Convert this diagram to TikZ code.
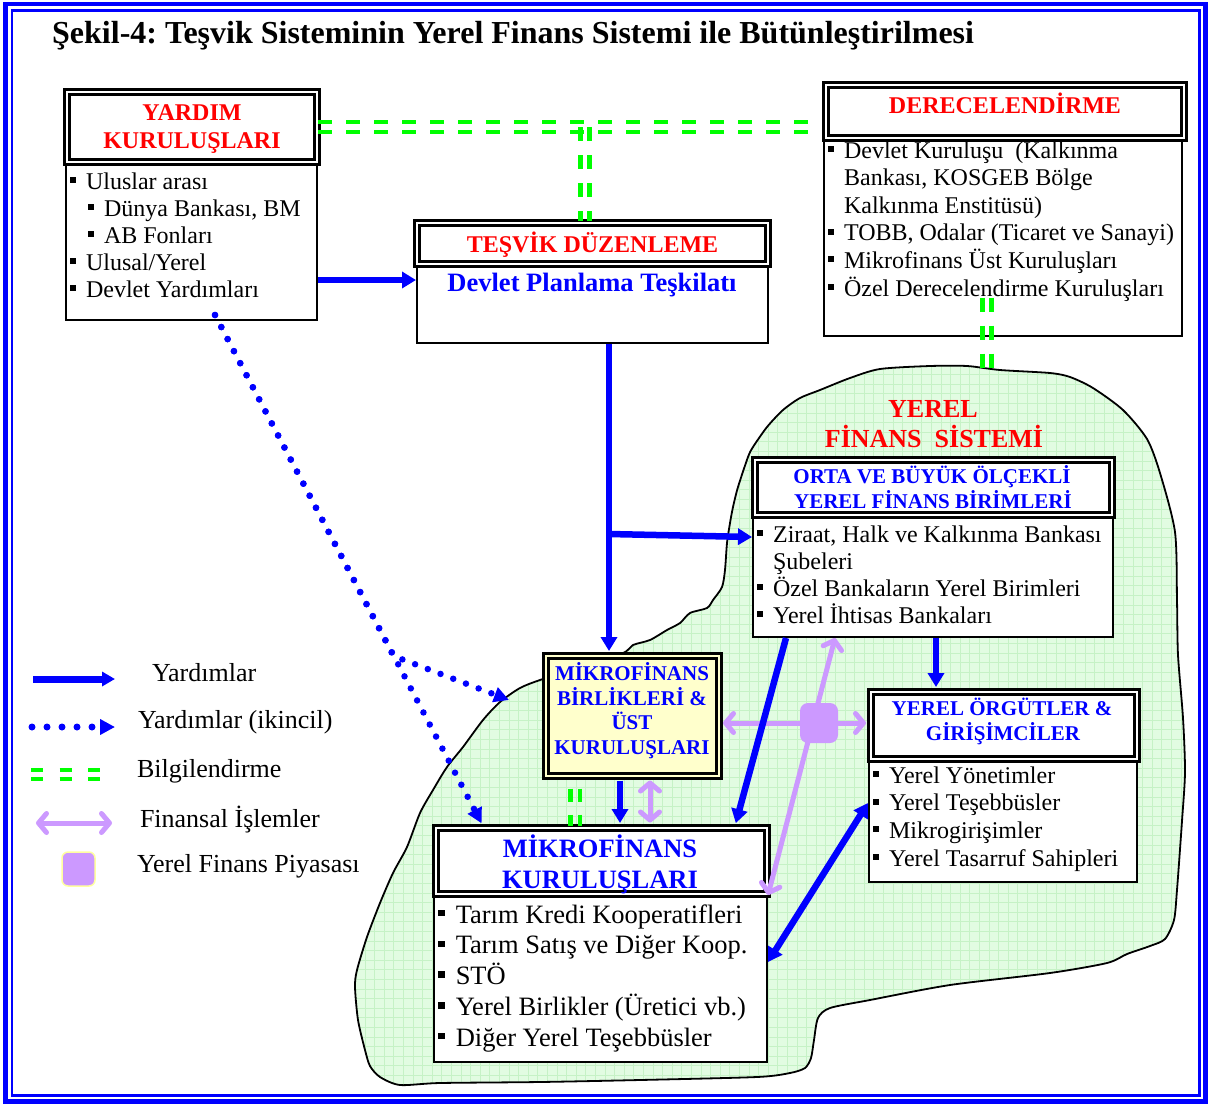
\documentclass[tikz,border=0pt]{standalone}
\usepackage{fontspec}
\setmainfont{Liberation Serif}
\usetikzlibrary{arrows.meta,calc,fit}
\frenchspacing

\definecolor{fsblue}{RGB}{0,0,255}
\definecolor{fsred}{RGB}{255,0,0}
\definecolor{fsgreen}{RGB}{0,255,0}
\definecolor{lav}{RGB}{204,153,255}
\definecolor{blobfill}{RGB}{226,252,226}
\definecolor{blobgrid}{RGB}{198,242,198}
\definecolor{paleyellow}{RGB}{255,255,204}
\definecolor{sqedge}{RGB}{255,255,160}

% list helpers
\newcommand\bul{\rule[0.25em]{0.25em}{0.25em}\hspace{0.42em}}
\newcommand\ind{\hspace*{0.67em}}
\newcommand\fst{\rule{0pt}{1em}}
\newcommand\fsz[2]{\fontsize{#1}{#2}\selectfont}
% green double dashed line: two strokes shifted apart
\newcommand\infopair[4][]{%
  \draw[info,#1,transform canvas={#2=#3}] #4;
  \draw[info,#1,transform canvas={#2=-#3}] #4;}

\tikzset{
  hdr/.style={draw=black, line width=3pt, double=white, double distance=2pt, fill=white, inner sep=0pt},
  bodybox/.style={draw=black, line width=2pt, fill=white, inner sep=0pt},
  txt/.style={inner sep=0pt, outer sep=0pt, align=left, anchor=north west},
  htxt/.style={inner sep=0pt, outer sep=0pt, anchor=base, font=\bfseries\fsz{#1}{#1}},
  ltxt/.style={inner sep=0pt, outer sep=0pt, anchor=base west, font=\fsz{26}{26}},
  aid/.style={draw=fsblue, line width=6.5pt, -{Triangle[length=14pt,width=16pt]}},
  aidboth/.style={draw=fsblue, line width=6.5pt, {Triangle[length=14pt,width=16pt]}-{Triangle[length=14pt,width=16pt]}},
  sec/.style={draw=fsblue, line width=6.5pt, line cap=round, dash pattern=on 0pt off 13.6pt, -{Triangle[length=15pt,width=15pt]}},
  info/.style={draw=fsgreen, line width=4.5pt, dash pattern=on 14pt off 14pt},
  fin/.style={draw=lav, line width=5pt, line cap=round, -{Straight Barb[length=8pt,width=19pt,round]}},
  finboth/.style={draw=lav, line width=5pt, line cap=round, {Straight Barb[length=8pt,width=19pt,round]}-{Straight Barb[length=8pt,width=19pt,round]}},
  market/.style={fill=lav, rounded corners=8pt, minimum width=38pt, minimum height=40pt, inner sep=0pt}
}

\def\blobpath{plot[smooth cycle, tension=0.45] coordinates {
 (748,457) (753,447) (767,427) (783,410) (800,398) (820,390) (850,378) (880,369)
 (930,366) (967,366) (1000,370) (1050,373) (1070,377) (1093,388) (1123,410)
 (1147,439) (1160,473) (1175,532) (1177,600) (1178,655) (1183,718) (1185,772)
 (1182,821) (1177,890) (1174,920) (1165,939) (1150,946) (1127,954) (1107,963)
 (1050,973) (950,985) (870,1000) (830,1008) (818,1018) (814,1040) (811,1058)
 (805,1068) (790,1073) (757,1077) (640,1080) (540,1082) (440,1083) (400,1085)
 (380,1077) (370,1066) (365,1050) (358,1020) (355,987) (357,970) (367,937)
 (380,903) (393,873) (407,847) (420,813) (433,790) (447,767) (463,747)
 (483,720) (500,702) (520,688) (540,680) (580,667) (623,653) (633,645)
 (650,640) (667,630) (680,623) (690,613) (707,608) (713,600) (722,587)
 (725,570) (727,543) (730,523) (733,507) (738,487)}}

\begin{document}
\begin{tikzpicture}[x=1pt,y=-1pt]
\useasboundingbox (0,0) rectangle (1211,1104);
\fill[white] (0,0) rectangle (1211,1104);

% double blue frame
\draw[fsblue, line width=4.5pt] (5.3,4.2) rectangle (1205.5,1101.5);
\draw[fsblue, line width=2.5pt] (12,10.7) rectangle (1199.5,1095.5);

% title
\node[inner sep=0pt, anchor=base west, font=\bfseries\fsz{32}{32}] (title) at (52,43)
  {Şekil-4: Teşvik Sisteminin Yerel Finans Sistemi ile Bütünleştirilmesi};

% local finance system region
\begin{scope}
  \clip \blobpath;
  \fill[blobfill] (340,350) rectangle (1200,1100);
  \draw[blobgrid, line width=0.6pt, step=9.6pt] (340,1100) grid (1200,350);
\end{scope}
\draw[black, line width=1.8pt] \blobpath;

% boxes
\node[bodybox, fit={(66,163)(317,320)}] (yardimB) {};
\node[hdr, fit={(66.7,92.3)(316.7,162)}] (yardimH) {};
\node[bodybox, fit={(417,263)(768,343)}] (tesvikB) {};
\node[hdr, fit={(417,222.5)(768,264)}] (tesvikH) {};
\node[bodybox, fit={(824.3,134)(1181.7,335.7)}] (derB) {};
\node[hdr, fit={(825.5,84.5)(1184,137.5)}] (derH) {};

% information links at the top
\coordinate (infoJ) at (585,127);
\coordinate (blobTop) at (987,369);
\infopair[shorten >=14pt]{yshift}{5pt}{(yardimH.east |- infoJ) -- (derH.west |- infoJ)}
\infopair{xshift}{4.5pt}{(infoJ) -- (tesvikH.north -| infoJ)}
\infopair{xshift}{4.5pt}{($(derB.south -| blobTop)+(0,-39)$) -- (blobTop)}

\node[bodybox, fit={(753,517)(1113,637)}] (ortaB) {};
\node[hdr, fit={(755.2,459.5)(1111.5,514.5)}] (ortaH) {};
\node[hdr, double=paleyellow, fill=paleyellow, fit={(545.5,655.5)(718.5,775.5)}] (birlik) {};
\node[bodybox, fit={(434,895)(767,1062)}] (kurB) {};
\node[hdr, fit={(435.5,827.5)(766.5,893.5)}] (kurH) {};
\node[bodybox, fit={(869,760)(1137,882)}] (orgB) {};
\node[hdr, fit={(870.5,691.5)(1136.5,758.5)}] (orgH) {};

% information link between the microfinance boxes
\coordinate (infoM) at (575.25,800);
\infopair[dash pattern=on 13pt off 13pt, dash phase=14.5pt]{xshift}{4.75pt}{(birlik.south -| infoM) -- (kurH.north -| infoM)}

% financial transactions around the local finance market
\coordinate (pazarC) at (819,723);
\draw[fin, shorten >=3pt] (pazarC) -- (birlik.east |- pazarC);
\draw[fin, shorten >=3pt] (pazarC) -- (orgH.west |- pazarC);
\draw[finboth] (kurH.south east) -- (ortaB.south -| 835,0);
\draw[finboth, shorten <=3.5pt, shorten >=3.5pt] (birlik.south -| 650,0) -- (kurH.north -| 650,0);
\node[market] (pazar) at (pazarC) {};

% aid flows
\coordinate (split) at (609,534);
\draw[aid] (yardimB.east |- 0,280) -- (tesvikB.west |- 0,280);
\draw[aid, shorten >=3pt] (tesvikB.south -| split) -- (birlik.north -| split);
\draw[aid] (split) -- (ortaB.west |- 0,537);
\draw[aid, shorten <=3.5pt, shorten >=3pt] (birlik.south -| 620,0) -- (kurH.north -| 620,0);
\draw[aid, shorten >=3pt] (ortaB.south -| 786,0) -- (kurH.north -| 735,0);
\draw[aid, shorten >=3pt] (ortaB.south -| 936,0) -- (orgH.north -| 936,0);
\draw[aidboth] (kurB.east |- 0,962) -- (orgB.west |- 0,803);

% secondary aid flows
\coordinate (secStart) at ($(yardimB.south -| 215,0)+(0,-6)$);
\coordinate (secBend) at (393.5,656);
\coordinate (blobW) at (509,700);
\draw[sec, shorten >=3pt] (secStart) -- (kurH.north -| 483,0);
\draw[sec] (secStart) -- (secBend) -- (blobW);

% header texts
\node[htxt=24, text=fsred] (yardimT1) at (192,120) {YARDIM};
\node[htxt=24, text=fsred] (yardimT2) at (192,148) {KURULUŞLARI};
\node[htxt=24, text=fsred] (tesvikT) at (592.5,252) {TEŞVİK DÜZENLEME};
\node[htxt=26.5, text=fsblue] (dptT) at (592,291) {Devlet Planlama Teşkilatı};
\node[htxt=24, text=fsred] (derT) at (1005,113) {DERECELENDİRME};
\node[htxt=26, text=fsred] (yfsT1) at (933,417) {YEREL};
\node[htxt=26, text=fsred] (yfsT2) at (934,447) {FİNANS\ \ SİSTEMİ};
\node[htxt=21, text=fsblue] (ortaT1) at (932,483) {ORTA VE BÜYÜK ÖLÇEKLİ};
\node[htxt=21, text=fsblue] (ortaT2) at (933,508) {YEREL FİNANS BİRİMLERİ};
\node[htxt=21, text=fsblue] (birlikT1) at (632,680) {MİKROFİNANS};
\node[htxt=21, text=fsblue] (birlikT2) at (632,705) {BİRLİKLERİ \&};
\node[htxt=21, text=fsblue] (birlikT3) at (632,729) {ÜST};
\node[htxt=21, text=fsblue] (birlikT4) at (632,754) {KURULUŞLARI};
\node[htxt=26.5, text=fsblue] (kurT1) at (600,857) {MİKROFİNANS};
\node[htxt=26.5, text=fsblue] (kurT2) at (600,888) {KURULUŞLARI};
\node[htxt=21, text=fsblue] (orgT1) at (1002,715) {YEREL ÖRGÜTLER \&};
\node[htxt=21, text=fsblue] (orgT2) at (1003,740) {GİRİŞİMCİLER};

% list texts
\node[txt, font=\fsz{24}{27}] (yardimL) at (70,165)
  {\fst\bul Uluslar arası\\
   \hspace*{18pt}\bul Dünya Bankası, BM\\
   \hspace*{18pt}\bul AB Fonları\\
   \bul Ulusal/Yerel\\
   \bul Devlet Yardımları};
\node[txt, font=\fsz{24}{27.6}] (derL) at (828,134)
  {\fst\bul Devlet Kuruluşu\ \ (Kalkınma\\
   \ind Bankası, KOSGEB Bölge\\
   \ind Kalkınma Enstitüsü)\\
   \bul TOBB, Odalar (Ticaret ve Sanayi)\\
   \bul Mikrofinans Üst Kuruluşları\\
   \bul Özel Derecelendirme Kuruluşları};
\node[txt, font=\fsz{24}{27}] (ortaL) at (757,518)
  {\fst\bul Ziraat, Halk ve Kalkınma Bankası\\
   \ind Şubeleri\\
   \bul Özel Bankaların Yerel Birimleri\\
   \bul Yerel İhtisas Bankaları};
\node[txt, font=\fsz{26.5}{30.75}] (kurL) at (438,896.5)
  {\fst\bul Tarım Kredi Kooperatifleri\\
   \bul Tarım Satış ve Diğer Koop.\\
   \bul STÖ\\
   \bul Yerel Birlikler (Üretici vb.)\\
   \bul Diğer Yerel Teşebbüsler};
\node[txt, font=\fsz{24}{27.7}] (orgL) at (873,759)
  {\fst\bul Yerel Yönetimler\\
   \bul Yerel Teşebbüsler\\
   \bul Mikrogirişimler\\
   \bul Yerel Tasarruf Sahipleri};

% legend
\coordinate (lgA1) at (33,679);  \coordinate (lgA2) at (115,679);
\coordinate (lgB1) at (32,727);  \coordinate (lgB2) at (115,727);
\coordinate (lgC1) at (31,774.5); \coordinate (lgC2) at (104,774.5);
\coordinate (lgD1) at (36,823);  \coordinate (lgD2) at (112,823);
\draw[aid, line width=7pt, -{Triangle[length=13pt,width=14pt]}] (lgA1) -- (lgA2);
\draw[sec, line width=7pt, dash pattern=on 0pt off 15pt] (lgB1) -- (lgB2);
\infopair[dash pattern=on 12pt off 16.5pt]{yshift}{4.5pt}{(lgC1) -- (lgC2)}
\draw[finboth] (lgD1) -- (lgD2);
\node[market, minimum width=33pt, minimum height=34pt, rounded corners=6pt, draw=sqedge, line width=1.5pt] (lgE) at (78.5,869) {};
\node[ltxt] (lgAt) at (152,681) {Yardımlar};
\node[ltxt] (lgBt) at (138,728) {Yardımlar (ikincil)};
\node[ltxt] (lgCt) at (137,777) {Bilgilendirme};
\node[ltxt] (lgDt) at (140,827) {Finansal İşlemler};
\node[ltxt] (lgEt) at (137,872) {Yerel Finans Piyasası};
\end{tikzpicture}
\end{document}
